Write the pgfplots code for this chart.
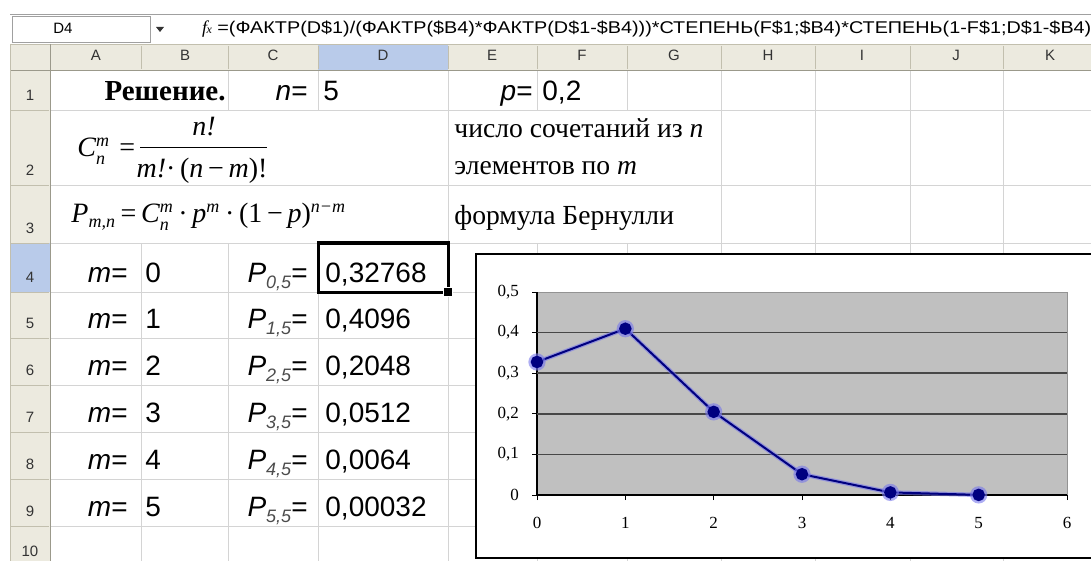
\documentclass[border=0pt]{standalone}
\usepackage{pgfplots}
\pgfplotsset{compat=1.18}
\usepackage{fontspec}
\setmainfont{Liberation Sans}
\newfontfamily\tnr{Liberation Serif}
\definecolor{hdr}{HTML}{ECEADF}
\definecolor{hdrsel}{HTML}{B9CBEA}
\definecolor{hdrline}{HTML}{C2BFAE}
\definecolor{gridc}{HTML}{D4D4D4}
\definecolor{fbline}{HTML}{A0A0A0}
\definecolor{plotbg}{HTML}{C0C0C0}
\definecolor{navy}{HTML}{000080}
\definecolor{halo}{RGB}{120,120,235}
\definecolor{hdrtxt}{HTML}{333333}
\newcommand\cellfont{\fontsize{14}{16}\selectfont}
\newcommand\hdrfont{\fontsize{7.5}{9}\selectfont}
\newcommand\fbfont{\fontsize{8.5}{10}\selectfont}
\newcommand\fmfont{\tnr\fontsize{14}{17}\selectfont}
\newcommand\smi[1]{\hbox{\fontsize{9}{10}\selectfont\itshape #1}}
\newcommand\Psub[1]{\textit{P}\raisebox{-0.45ex}{\color{black!70}\fontsize{9}{10}\selectfont\itshape #1}=}

\begin{document}
\begin{tikzpicture}
\useasboundingbox (0,0) rectangle (545.5pt,-280.5pt);
\clip (0,0) rectangle (545.5pt,-280.5pt);
\begin{scope}[x=0.5pt,y=-0.5pt, every node/.style={inner sep=0pt}]
\fill[white] (0,0) rectangle (1091,561);
% ---- formula bar
\draw[fbline] (10,14) -- (1100,14);
\draw[fbline] (12,16) rectangle (150,42);
\node[anchor=base] at (63,34) {\hdrfont D4};
\fill[black!80] (156,27) -- (164,27) -- (160,32) -- cycle;
\node[anchor=base] at (207,34) {\tnr\itshape\fontsize{9}{10}\selectfont f\kern-0.3pt{\fontsize{6}{7}\selectfont x}};
\node[anchor=base west] at (217,34) {\scalebox{1.165}[1]{\fbfont =(ФАКТР(D\$1)/(ФАКТР(\$B4)*ФАКТР(D\$1-\$B4)))*СТЕПЕНЬ(F\$1;\$B4)*СТЕПЕНЬ(1-F\$1;D\$1-\$B4)}};
% ---- headers
\fill[hdr] (10,44) rectangle (1100,70);
\fill[hdrsel] (318,44) rectangle (448,70);
\fill[hdr] (10,70) rectangle (50,561);
\fill[hdrsel] (10,243) rectangle (50,292);
\draw[hdrline] (10,44) -- (1100,44);
\draw[hdrline!80!black] (10,70) -- (1100,70);
\draw[hdrline] (10,44) -- (10,561);
\draw[hdrline!80!black] (50,44) -- (50,561);
\foreach \x in {141,228,318,448,537,627,721,815,910,1003} \draw[hdrline] (\x,46) -- (\x,69);
\foreach \y in {110,185,243,292,338,385,432,479,526} \draw[hdrline] (11,\y) -- (49,\y);
\foreach \x/\l in {96/A,185/B,273/C,383/D,492/E,582/F,674/G,768/H,862/I,956/J,1050/K}
  \node[anchor=base, text=hdrtxt] at (\x,61) {\hdrfont \l};
\foreach \y/\l in {101/1,176/2,234/3,282/4,328/5,375/6,422/7,469/8,516/9,556/10}
  \node[anchor=base, text=hdrtxt] at (30,\y) {\hdrfont \l};
% ---- grid
\foreach \y in {110,185,243,292,338,385,432,479,526} \draw[gridc] (51,\y) -- (1100,\y);
\foreach \x in {228,318,537,627} {\draw[gridc] (\x,71) -- (\x,110); \draw[gridc] (\x,243) -- (\x,561);}
\draw[gridc] (141,243) -- (141,561);
\foreach \x in {448,721,815,910,1003} \draw[gridc] (\x,71) -- (\x,561);
% ---- cell texts
\node[anchor=base east] at (226,101) {\tnr\bfseries\fontsize{14.5}{17}\selectfont Решение.};
\node[anchor=base east] at (308,101) {\cellfont\textit{n}=};
\node[anchor=base west] at (323,101) {\cellfont 5};
\node[anchor=base east] at (533,101) {\cellfont\textit{p}=};
\node[anchor=base west] at (542,101) {\cellfont 0,2};
% row 2 formula
\node[anchor=base west] at (77,157) {\fmfont\itshape C$^{\smi{m}}_{\smi{n}}$\upshape\,\,=};
\node[anchor=base] at (204,136) {\fmfont\itshape n!};
\draw[black, line width=0.5pt] (140,148) -- (267,148);
\node[anchor=base] at (202,178) {\fmfont\itshape m!\upshape·\,(\itshape n\upshape\,−\,\itshape m\upshape )!};
% row 3 formula
\node[anchor=base west] at (71,223) {\fmfont\itshape P$_{\smi{m,n}}$\upshape\,=\,\itshape C$^{\smi{m}}_{\smi{n}}$\upshape\,·\,\itshape p$^{\smi{m}}$\upshape\,·\,(1\,−\,\itshape p\upshape)$^{\smi{n−m}}$};
% E2/E3 texts
\node[anchor=base west] at (454,138) {\tnr\fontsize{13.8}{15}\selectfont число сочетаний из \textit{n}};
\node[anchor=base west] at (454,175) {\tnr\fontsize{13.8}{15}\selectfont элементов по \textit{m}};
\node[anchor=base west] at (454,225) {\tnr\fontsize{13.8}{15}\selectfont формула Бернулли};
% rows 4-9
\foreach \r/\b/\v [count=\i from 0] in {282/0/{0,32768},328/1/{0,4096},375/2/{0,2048},422/3/{0,0512},469/4/{0,0064},516/5/{0,00032}} {
  \node[anchor=base east] at (128,\r) {\cellfont\textit{m}=};
  \node[anchor=base west] at (145,\r) {\cellfont \b};
  \node[anchor=base east] at (308,\r) {\cellfont\Psub{\b,5}};
  \node[anchor=base west] at (325,\r) {\cellfont \v};
}
% selected cell
\draw[black, line width=1.5pt] (318,243) rectangle (448,292);
\filldraw[fill=black, draw=white, line width=0.4pt] (443,287) rectangle (452,296);
% chart frame
\filldraw[fill=white, draw=black, line width=0.8pt] (476,254) rectangle (1130,558);
\end{scope}
\begin{axis}[
  at={(268.5pt,-247.5pt)}, anchor=south west,
  scale only axis, width=265pt, height=101.5pt,
  xmin=0, xmax=6, ymin=0, ymax=0.5,
  axis x line*=bottom, axis y line*=left,
  axis line style={black, line width=0.6pt, -},
  axis background/.style={fill=plotbg, draw=gray!85},
  xtick={0,1,2,3,4,5,6}, xticklabels={0,1,2,3,4,5,6},
  ytick={0,0.1,0.2,0.3,0.4,0.5},
  yticklabels={0,{0,1},{0,2},{0,3},{0,4},{0,5}},
  extra y ticks={0.1,0.2,0.3,0.4}, extra y tick labels={},
  extra y tick style={grid=major, major tick length=0pt},
  major grid style={draw=black!72, line width=0.75pt},
  tick align=outside, major tick length=2.5pt,
  tick style={black, line width=0.5pt},
  tick label style={font=\tnr\fontsize{8.5}{10}\selectfont},
  xticklabel shift=5pt, yticklabel shift=3pt,
  clip=false,
]
\addplot[color=halo, opacity=0.6, line width=2.2pt, mark=*, mark size=3.2pt, mark options={fill=halo, draw=halo}]
  coordinates {(0,0.32768) (1,0.4096) (2,0.2048) (3,0.0512) (4,0.0064) (5,0.00032)};
\addplot[color=navy, line width=1pt, mark=*, mark size=2.6pt, mark options={fill=navy, draw=navy}]
  coordinates {(0,0.32768) (1,0.4096) (2,0.2048) (3,0.0512) (4,0.0064) (5,0.00032)};
\end{axis}
\end{tikzpicture}
\end{document}
